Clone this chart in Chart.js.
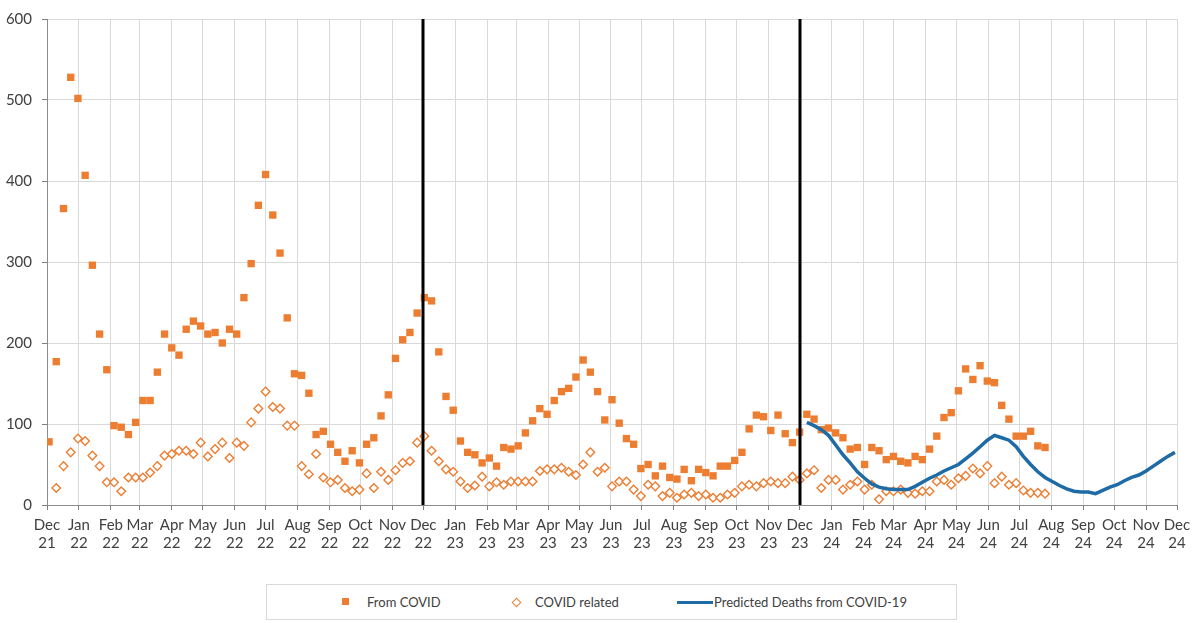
<!DOCTYPE html>
<html>
<head>
<meta charset="utf-8">
<script src="https://cdn.jsdelivr.net/npm/chart.js@4.4.1/dist/chart.umd.min.js"></script>
<style>
    body { margin: 0; background: #fff; font-family: Lato, "Liberation Sans", sans-serif; }
    #wrap { position: relative; width: 1200px; height: 623px; }
    #chartBox { position: absolute; left: 0; top: 0; width: 1200px; height: 560px; }
    #legend { position: absolute; left: 266px; top: 584px; width: 691px; height: 36px; border: 1px solid #d9d9d9; box-sizing: border-box; }
    .lg { position: absolute; top: 50%; transform: translateY(-50%); font-size: 13px; color: #404040; white-space: nowrap; }
    .sq { position: absolute; left: 75px; top: 13px; width: 7px; height: 7px; background: #ed7d31; }
    .dm { position: absolute; left: 246px; top: 14px; width: 5px; height: 5px; border: 1.3px solid #ed7d31; transform: rotate(45deg); }
    .ln { position: absolute; left: 410px; top: 16px; width: 36px; height: 3px; background: #1f6ba5; }
</style>
</head>
<body>
<div id="wrap">
    <div id="chartBox"><canvas id="deathsChart"></canvas></div>
    <div id="legend">
        <div class="sq"></div><div class="lg" style="left:100px">From COVID</div>
        <div class="dm"></div><div class="lg" style="left:268px">COVID related</div>
        <div class="ln"></div><div class="lg" style="left:447px">Predicted Deaths from COVID-19</div>
    </div>
</div>
<script>
// weekly series, first week ends Fri 3 Dec 2021
const firstWeek = '2021-12-03';
const axisStart = '2021-12-01';
const axisEnd = '2024-12-01';
const monthNames = ['Jan', 'Feb', 'Mar', 'Apr', 'May', 'Jun', 'Jul', 'Aug', 'Sep', 'Oct', 'Nov', 'Dec'];
const dividerDates = ['2022-12-01', '2023-12-01'];

const fromCovid = [
    78, 177, 366, 528, 502, 407, 296, 211, 167, 98, 96, 87, 102, 129, 129, 164, 211, 194, 185, 217,
    227, 221, 211, 213, 200, 217, 211, 256, 298, 370, 408, 358, 311, 231, 162, 160, 138, 87, 91, 75,
    65, 54, 67, 52, 75, 83, 110, 136, 181, 204, 213, 237, 256, 252, 189, 134, 117, 79, 65, 62,
    52, 58, 48, 71, 69, 73, 89, 104, 119, 112, 129, 140, 144, 158, 179, 164, 140, 105, 130, 101,
    82, 75, 45, 50, 36, 48, 34, 32, 44, 30, 44, 40, 36, 48, 48, 55, 65, 94, 111, 109,
    92, 111, 88, 77, 90, 112, 106, 93, 95, 89, 83, 69, 71, 50, 71, 67, 56, 60, 54, 52,
    60, 56, 69, 85, 108, 114, 141, 168, 155, 172, 153, 151, 123, 106, 85, 85, 91, 73, 71
];
const covidRelated = [
    null, 21, 48, 65, 82, 79, 61, 48, 28, 28, 17, 34, 34, 34, 40, 48, 61, 63, 67, 67,
    63, 77, 60, 69, 77, 58, 77, 73, 102, 119, 140, 121, 119, 98, 98, 48, 38, 63, 34, 28,
    31, 21, 17, 19, 39, 21, 41, 31, 43, 52, 54, 77, 85, 67, 54, 44, 41, 29, 21, 24,
    35, 23, 28, 25, 29, 29, 29, 29, 42, 44, 44, 46, 41, 37, 50, 65, 41, 46, 23, 29,
    29, 19, 11, 25, 23, 11, 15, 9, 13, 15, 11, 13, 9, 9, 13, 15, 23, 25, 23, 27,
    29, 27, 27, 35, 31, 39, 43, 21, 31, 31, 19, 25, 29, 19, 25, 7, 17, 17, 19, 15,
    14, 17, 17, 29, 31, 25, 33, 36, 45, 39, 48, 27, 35, 25, 27, 18, 15, 15, 14
];
// predicted deaths start at week 106 (mid Dec 2023)
const predictedStart = 105;
const predicted = [
    102, 98, 93, 86, 74, 62, 52, 41, 33, 26, 22, 20, 19, 19, 19, 23, 28, 33, 37, 42,
    46, 50, 57, 64, 72, 80, 86, 83, 80, 72, 60, 50, 41, 34, 29, 24, 20, 17, 16, 16,
    14, 18, 22, 25, 30, 34, 37, 42, 48, 54, 60, 65
];

const DAY = 86400000;
function dayOf(s) {
    return (Date.parse(s) - Date.parse(axisStart)) / DAY;
}
function weekDay(i) {
    return dayOf(firstWeek) + i * 7;
}
function toPoints(values, offset) {
    return values.map(function (v, i) {
        return { x: weekDay(i + offset), y: v };
    });
}

const monthTicks = [];
const monthLabel = {};
for (let m = 0; m <= 36; m++) {
    const d = new Date(Date.UTC(2021, 11 + m, 1));
    const v = (d.getTime() - Date.parse(axisStart)) / DAY;
    monthTicks.push(v);
    monthLabel[v] = [monthNames[d.getUTCMonth()], String(d.getUTCFullYear()).slice(2)];
}

const dividerPlugin = {
    id: 'dividers',
    afterDatasetsDraw(chart) {
        const ctx = chart.ctx;
        const area = chart.chartArea;
        const x = chart.scales.x;
        ctx.save();
        ctx.strokeStyle = '#000';
        ctx.lineWidth = 3;
        dividerDates.forEach(function (d) {
            const px = Math.round(x.getPixelForValue(dayOf(d)));
            ctx.beginPath();
            ctx.moveTo(px, area.top);
            ctx.lineTo(px, area.bottom);
            ctx.stroke();
        });
        ctx.restore();
    }
};

const ctx = document.getElementById('deathsChart').getContext('2d');
new Chart(ctx, {
    type: 'scatter',
    data: {
        datasets: [{
            label: 'Predicted Deaths from COVID-19',
            data: toPoints(predicted, predictedStart),
            showLine: true,
            borderColor: '#1f6ba5',
            borderWidth: 3.5,
            pointRadius: 0,
            tension: 0
        }, {
            label: 'From COVID',
            data: toPoints(fromCovid, 0),
            pointStyle: 'rect',
            pointRadius: 5.2,
            backgroundColor: '#ed7d31',
            borderColor: '#ed7d31',
            borderWidth: 0
        }, {
            label: 'COVID related',
            data: toPoints(covidRelated, 0),
            pointStyle: 'rectRot',
            pointRadius: 4.3,
            backgroundColor: '#ffffff',
            borderColor: '#ed7d31',
            borderWidth: 1.4
        }]
    },
    options: {
        responsive: true,
        maintainAspectRatio: false,
        animation: false,
        layout: { padding: { top: 18, right: 23, left: 0, bottom: 0 } },
        plugins: {
            legend: { display: false },
            tooltip: { enabled: false }
        },
        scales: {
            x: {
                type: 'linear',
                min: 0,
                max: dayOf(axisEnd),
                afterBuildTicks: function (scale) {
                    scale.ticks = monthTicks.map(function (v) { return { value: v }; });
                },
                afterFit: function (scale) { scale.height = 55; },
                grid: { color: '#d9d9d9', tickColor: '#7f7f7f', tickLength: 5, lineWidth: 1 },
                border: { color: '#8c8c8c', width: 1 },
                ticks: {
                    autoSkip: false,
                    maxRotation: 0,
                    padding: 6,
                    color: '#404040',
                    font: { family: 'Lato', size: 15, lineHeight: 1.2 },
                    callback: function (v) { return monthLabel[v] || ''; }
                }
            },
            y: {
                min: 0,
                max: 600,
                afterFit: function (scale) { scale.width = 47; },
                grid: { color: '#d9d9d9', tickColor: '#7f7f7f', tickLength: 5 },
                border: { color: '#8c8c8c', width: 1 },
                ticks: {
                    stepSize: 100,
                    padding: 10,
                    color: '#404040',
                    font: { family: 'Lato', size: 15 }
                }
            }
        }
    },
    plugins: [dividerPlugin]
});
</script>
</body>
</html>
